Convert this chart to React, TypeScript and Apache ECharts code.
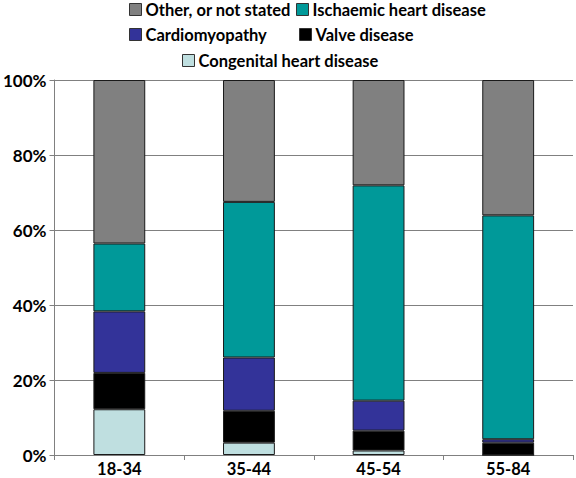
import React, { useEffect, useRef } from "react";
import * as echarts from "echarts";

const categories = ["18-34", "35-44", "45-54", "55-84"];
const congenital = [12.2, 3.3, 1.2, 0];
const valve = [9.7, 8.5, 5.3, 3.3];
const cardiomyopathy = [16.4, 14.2, 8.0, 0.9];
const ischaemic = [18.1, 41.5, 57.4, 59.7];
const other = [43.6, 32.5, 28.1, 36.1];
const yTicks = [0, 20, 40, 60, 80, 100];

const seriesDefs = [
  { name: "Congenital heart disease", data: congenital, color: "#bfdfe0" },
  { name: "Valve disease", data: valve, color: "#000000" },
  { name: "Cardiomyopathy", data: cardiomyopathy, color: "#333399" },
  { name: "Ischaemic heart disease", data: ischaemic, color: "#009999" },
  { name: "Other, or not stated", data: other, color: "#808080" },
];

const FONT = "Lato";

export default function App() {
  const ref = useRef<HTMLDivElement>(null);
  useEffect(() => {
    if (!ref.current) return;
    const chart = echarts.init(ref.current, null, { renderer: "svg" });
    const legendItem = (name: string, left: number, top: number) => ({
      data: [name],
      left,
      top,
      padding: 0,
      itemWidth: 12,
      itemHeight: 12,
      itemGap: 0,
      selectedMode: false,
      icon: "rect",
      itemStyle: { borderColor: "#333", borderWidth: 1 },
      textStyle: { fontFamily: FONT, fontWeight: "bold", fontSize: 16.5, color: "#000", padding: [0, 0, 0, -1] },
    });
    chart.setOption({
      animation: false,
      backgroundColor: "#ffffff",
      legend: [
        legendItem("Other, or not stated", 129, 1),
        legendItem("Ischaemic heart disease", 296, 1),
        legendItem("Cardiomyopathy", 129, 26),
        legendItem("Valve disease", 299, 26),
        legendItem("Congenital heart disease", 182, 52),
      ],
      grid: { left: 52, right: 3, top: 80, bottom: 23 },
      xAxis: {
        type: "category",
        data: categories,
        axisLine: { lineStyle: { color: "#808080", width: 1 } },
        axisTick: { show: true, length: 5, lineStyle: { color: "#808080" } },
        axisLabel: { fontFamily: FONT, fontWeight: "bold", fontSize: 16.5, lineHeight: 17, color: "#000", margin: 5 },
      },
      yAxis: {
        type: "value",
        min: 0,
        max: 100,
        interval: 20,
        axisLine: { show: true, lineStyle: { color: "#808080", width: 1 } },
        axisTick: { show: true, length: 5, lineStyle: { color: "#808080" } },
        axisLabel: {
          fontFamily: FONT,
          fontWeight: "bold",
          fontSize: 17,
          color: "#000",
          margin: 8,
          formatter: (v: number) => (yTicks.includes(v) ? v + "%" : ""),
        },
        splitLine: { show: true, lineStyle: { color: "#808080", width: 1 } },
      },
      series: seriesDefs.map((s) => ({
        name: s.name,
        type: "bar",
        stack: "total",
        barWidth: "40%",
        data: s.data,
        itemStyle: { color: s.color, borderColor: "#1a1a1a", borderWidth: 1 },
      })),
    });
    return () => chart.dispose();
  }, []);
  return <div ref={ref} style={{ width: 576, height: 478, position: "absolute", left: 0, top: 0 }} />;
}
